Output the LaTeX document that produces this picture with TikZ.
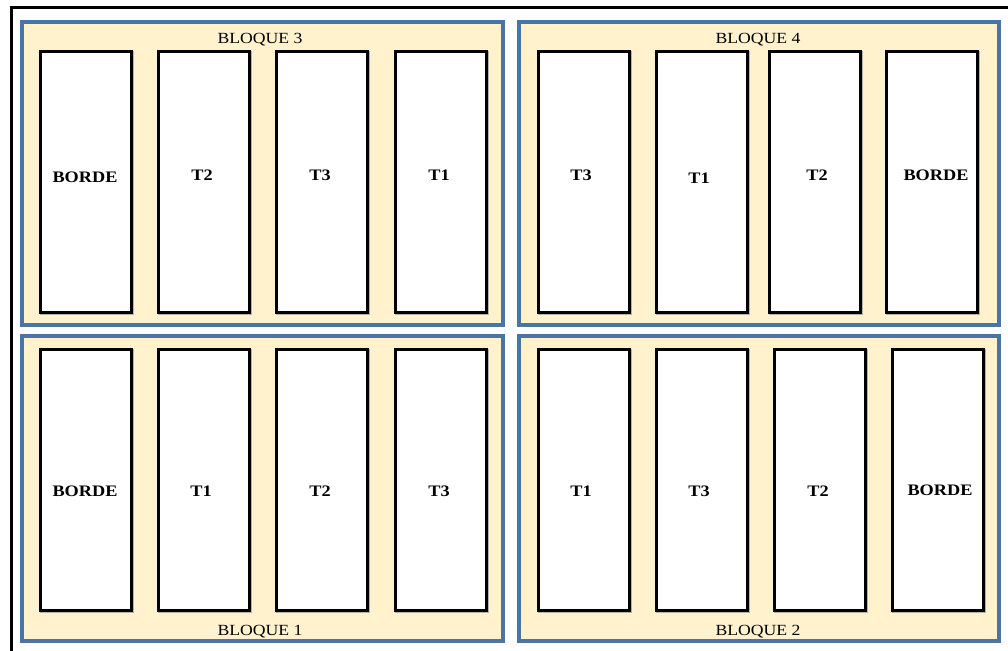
\documentclass[tikz,border=0pt]{standalone}
\usepackage{fontspec}
\setmainfont{Liberation Serif}
\begin{document}
\begin{tikzpicture}[x=1pt,y=-1pt,
  blockbox/.style={draw=blueedge,fill=blockfill,line width=3.5pt,inner sep=0pt},
  cellbox/.style={draw=black,fill=white,line width=3pt,minimum width=91pt,minimum height=261.5pt,inner sep=0pt},
  cellshadow/.style={draw=black!30,line width=3pt,minimum width=91pt,minimum height=261.5pt,inner sep=0pt},
  lbl/.style={font=\fontsize{16}{18}\selectfont\bfseries,inner sep=0pt},
  title/.style={font=\fontsize{15.5}{18}\selectfont,inner sep=0pt},
  frame/.style={draw=black,line width=3pt}]
\definecolor{blueedge}{HTML}{4A74A4}
\definecolor{blockfill}{HTML}{FFF2CC}
\newcommand{\wx}[1]{\scalebox{1.14}[1]{#1}}
\useasboundingbox (0,0) rectangle (1008,650);
% outer frame
\coordinate (fc) at (11.5,7.5);
\coordinate (fr) at (1010,7.5);
\coordinate (fb) at (11.5,652);
\draw[frame] (fr) -- (fc) -- (fb);
% blocks
\node[blockbox,minimum width=481pt,minimum height=303pt] (B3) at (262.5,173.5) {};
\node[blockbox,minimum width=480pt,minimum height=303pt] (B4) at (759,173.5) {};
\node[blockbox,minimum width=481pt,minimum height=305pt] (B1) at (262.5,488.5) {};
\node[blockbox,minimum width=480pt,minimum height=305pt] (B2) at (759,488.5) {};
% titles
\node[title,anchor=base] (t3) at (260,43.5) {\wx{BLOQUE 3}};
\node[title,anchor=base] (t4) at (758,43.5) {\wx{BLOQUE 4}};
\node[title,anchor=base] (t1) at (260,635.5) {\wx{BLOQUE 1}};
\node[title,anchor=base] (t2) at (758,635.5) {\wx{BLOQUE 2}};
% cells
\foreach \n/\x/\y in {a3/85.5/182, b3/203.5/182, c3/322/182, d3/441/182,
                      a4/583.5/182, b4/701.5/182, c4/814.5/182, d4/931.5/182,
                      a1/85.5/480, b1/203.5/480, c1/322/480, d1/441/480,
                      a2/583.5/480, b2/701.5/480, c2/819.5/480, d2/937.5/480}{
  \node[cellshadow] (s\n) at (\x+1.2,\y+1.2) {};
  \node[cellbox] (\n) at (\x,\y) {};
}
% labels
\node[lbl] (la3) at (85,177) {\wx{BORDE}};
\node[lbl] (lb3) at (202,175) {\wx{T2}};
\node[lbl] (lc3) at (320,175) {\wx{T3}};
\node[lbl] (ld3) at (439,175) {\wx{T1}};
\node[lbl] (la4) at (581,175) {\wx{T3}};
\node[lbl] (lb4) at (699,178) {\wx{T1}};
\node[lbl] (lc4) at (817,175) {\wx{T2}};
\node[lbl] (ld4) at (936,175) {\wx{BORDE}};
\node[lbl] (la1) at (85,491) {\wx{BORDE}};
\node[lbl] (lb1) at (201,491) {\wx{T1}};
\node[lbl] (lc1) at (320,491) {\wx{T2}};
\node[lbl] (ld1) at (439,491) {\wx{T3}};
\node[lbl] (la2) at (581,491) {\wx{T1}};
\node[lbl] (lb2) at (699,491) {\wx{T3}};
\node[lbl] (lc2) at (818,491) {\wx{T2}};
\node[lbl] (ld2) at (940,490) {\wx{BORDE}};
\end{tikzpicture}
\end{document}
